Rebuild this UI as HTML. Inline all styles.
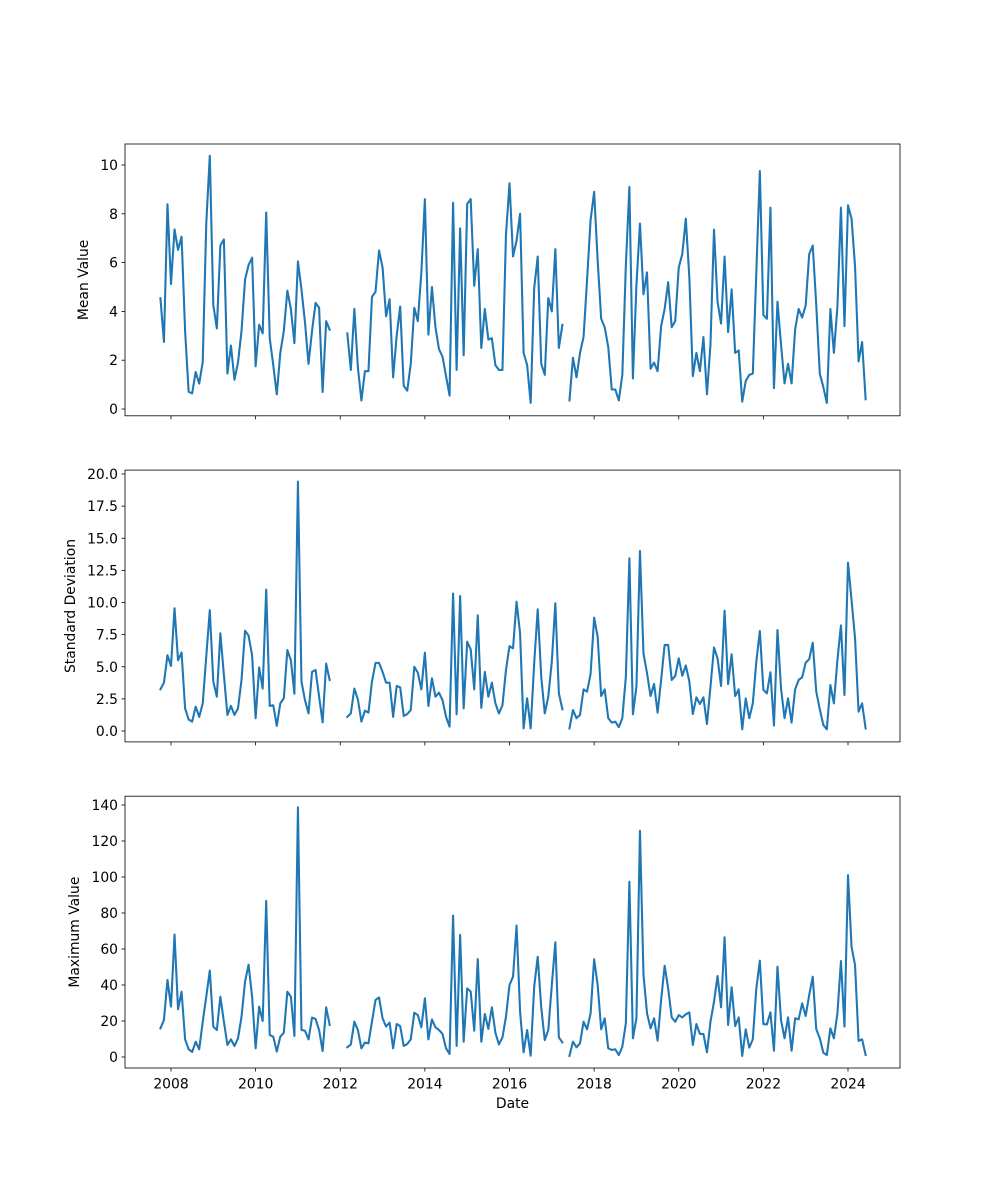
<!DOCTYPE html>
<html><head><meta charset="utf-8"><style>
body{margin:0;background:#fff}
svg{display:block}
text{font-family:"DejaVu Sans","Liberation Sans",sans-serif;font-size:13.9px;fill:#000}
</style></head><body>
<svg id="chart" width="1000" height="1200" viewBox="0 0 1000 1200" xmlns="http://www.w3.org/2000/svg"></svg>
<script>
// monthly series starting Oct 2007 (null = missing month)
const startYear = 2007, startMonth = 9; // 0-based month (Oct)
const meanValues = [4.54,2.75,8.39,5.12,7.36,6.52,7.06,3.2,0.71,0.64,1.52,1.04,1.93,7.6,10.38,4.26,3.3,6.7,6.95,1.45,2.6,1.2,1.9,3.2,5.3,5.9,6.2,1.75,3.45,3.1,8.05,2.9,1.8,0.6,2.3,3.2,4.85,4.1,2.7,6.05,4.9,3.55,1.85,3.2,4.35,4.15,0.7,3.6,3.25,
null,null,null,null,
3.1,1.6,4.1,1.7,0.35,1.55,1.55,4.6,4.8,6.5,5.8,3.8,4.5,1.3,3.0,4.2,
0.95,0.75,1.85,4.15,3.6,5.6,8.6,3.05,5.0,3.35,2.45,2.15,1.35,0.55,8.45,1.6,7.4,2.2,8.4,8.6,5.05,6.55,2.5,4.1,2.85,2.9,1.8,1.6,1.6,7.15,9.25,6.25,6.9,8.0,2.3,1.8,0.25,4.95,6.25,1.85,1.4,4.55,4.0,6.55,2.5,3.45,
null,
0.35,2.1,1.3,2.3,2.95,5.3,7.75,8.9,6.1,3.7,3.35,2.55,0.8,0.8,0.35,1.4,5.9,9.1,1.25,5.1,7.6,
4.7,5.6,1.65,1.9,1.55,3.4,4.1,5.2,3.35,3.6,5.8,6.35,7.8,5.4,1.35,2.3,1.55,2.95,0.6,2.65,7.35,4.4,3.5,6.25,3.15,4.9,2.3,2.4,0.3,1.15,1.4,1.45,5.6,9.75,3.85,3.7,8.25,0.85,4.4,2.65,1.05,1.85,1.05,3.25,4.1,3.75,4.25,6.35,6.7,4.25,1.45,0.9,0.25,4.1,2.3,4.2,8.25,3.4,8.35,7.8,5.85,1.95,2.75,0.4];
const stdValues = [3.24,3.76,5.9,5.06,9.55,5.5,6.1,1.76,0.9,0.73,1.9,1.1,2.15,5.8,9.4,3.85,2.67,7.6,4.36,1.25,1.95,1.25,1.76,3.97,7.8,7.42,5.9,1.0,4.95,3.3,11.0,1.95,2.0,0.4,2.15,2.55,6.3,5.5,2.9,19.4,3.85,2.4,1.37,4.6,4.75,2.67,0.67,5.25,3.97,
null,null,null,null,
1.1,1.37,3.3,2.46,0.73,1.58,1.43,3.85,5.3,5.3,4.6,3.76,3.76,1.1,3.5,3.4,
1.17,1.32,1.63,5.0,4.54,3.24,6.1,1.95,4.1,2.67,2.98,2.4,1.1,0.34,10.7,1.3,10.5,1.76,6.95,6.35,3.24,9.0,1.8,4.6,2.67,3.76,2.15,1.37,2.0,4.75,6.6,6.43,10.06,7.6,0.2,2.55,0.2,5.25,9.47,4.23,1.37,2.67,5.4,9.94,2.93,1.69,
null,
0.2,1.63,1.0,1.25,3.24,3.06,4.44,8.82,7.34,2.72,3.24,1.0,0.65,0.73,0.3,1.0,4.23,13.44,1.3,3.45,14.0,
6.04,4.5,2.72,3.66,1.43,3.97,6.7,6.7,3.97,4.28,5.66,4.3,5.1,3.85,1.32,2.62,2.1,2.62,0.54,3.45,6.5,5.66,3.5,9.36,3.66,5.97,2.72,3.24,0.13,2.54,1.0,2.15,5.4,7.78,3.2,2.93,4.57,0.42,7.86,3.32,1.0,2.54,0.65,3.24,3.97,4.18,5.32,5.58,6.87,3.06,1.69,0.47,0.13,3.58,2.15,5.53,8.22,2.8,13.1,10.2,7.2,1.5,2.15,0.2];
const maxValues = [15.9,20.6,42.8,28,68,26.5,36.3,9.8,4.3,2.8,8.5,4.3,19.6,33.5,48,16.9,15,33.5,19.6,6.7,9.8,6.1,10.4,22.4,41.9,51.3,33.5,4.8,28,20,86.7,12.2,11.3,3,11.3,13.5,36.3,33.5,11.7,138.7,15,14.6,9.8,21.9,21.1,15,3.3,27.6,17.8,
null,null,null,null,
5.4,7,19.6,15,4.8,8,7.6,19.6,31.7,33.1,21.5,16.9,19.1,4.8,18.3,17.2,
6.1,7.2,9.8,24.6,23.3,16.5,32.6,9.8,20.9,16.5,15,12.8,4.8,1.7,78.5,6.1,67.8,8.5,38.1,36.3,14.6,54.4,8.5,23.9,15.6,27.6,13.5,7,10.9,22.4,40,44.6,73,25.2,2.6,15,0.7,39,55.7,27.6,9.4,15,40,63.7,10.9,8.1,
null,
0.6,8.5,5.4,7.6,19.6,15.4,24.3,54.3,40,15.4,21.5,4.8,3.9,4.3,1.1,5.7,18.7,97.4,10.4,21.5,125.7,
45.6,24.3,15.9,21.5,9.1,31.7,50.7,38.1,22,19.6,23.3,22,23.7,24.8,6.7,18.3,12.8,12.8,2.6,19.6,30.7,45,27.6,66.5,17.8,38.7,17.2,22,0.6,15.4,5.2,9.8,38.1,53.5,18.3,18.1,24.8,3.5,50.2,20.6,10.4,22,3.5,21.5,20.9,29.8,22.8,34.4,44.6,15.4,10.4,2.4,1.1,15.9,10.4,24.3,53.3,16.9,101,61.3,51.1,8.9,9.8,1.1];
const xTickYears = [2008,2010,2012,2014,2016,2018,2020,2022,2024];
const meanTicks = [0,2,4,6,8,10];
const stdTicks = [0,2.5,5,7.5,10,12.5,15,17.5,20];
const stdTickLabels = ["0.0","2.5","5.0","7.5","10.0","12.5","15.0","17.5","20.0"];
const maxTicks = [0,20,40,60,80,100,120,140];

const NS = "http://www.w3.org/2000/svg";
const svg = document.getElementById('chart');
function mk(tag, attrs, parent){const e=document.createElementNS(NS,tag);for(const k in attrs)e.setAttribute(k,attrs[k]);(parent||svg).appendChild(e);return e;}
const L=125,R=900;
function xScale(t){return 171 + (t-2008)*42.3125;}
function monthT(i){return startYear + (startMonth+i)/12;}

const panels = [
 {name:'mean',data:meanValues,top:144,bot:415.8,y0:409,ppu:24.4,ticks:meanTicks,labels:meanTicks.map(String),title:'Mean Value',tx:88},
 {name:'std',data:stdValues,top:470.1,bot:741.9,y0:731,ppu:12.85,ticks:stdTicks,labels:stdTickLabels,title:'Standard Deviation',tx:75},
 {name:'max',data:maxValues,top:796.2,bot:1068,y0:1057,ppu:1.8,ticks:maxTicks,labels:maxTicks.map(String),title:'Maximum Value',tx:79}
];
panels.forEach((p,pi)=>{
  const g=mk('g',{});
  
  
  const yS=v=>p.y0 - v*p.ppu;
  let d='',pen=false;
  p.data.forEach((v,i)=>{
    if(v===null){pen=false;return;}
    const x=xScale(monthT(i)),y=yS(v);
    d+=(pen?'L':'M')+x.toFixed(2)+' '+y.toFixed(2);pen=true;
  });
  const path=mk('path',{d:d,fill:'none',stroke:'#1f77b4','stroke-width':2.08,'stroke-linejoin':'round','stroke-linecap':'square'},g);
  
  
  const fr=mk('rect',{x:L,y:p.top,width:R-L,height:p.bot-p.top,fill:'none',stroke:'#000','stroke-width':0.8},g);
  
  
  p.ticks.forEach((v,k)=>{
    const y=yS(v);
    mk('line',{x1:L-3.5,x2:L,y1:y,y2:y,stroke:'#000','stroke-width':0.8},g);
    const t=mk('text',{x:L-7,y:y+5,'text-anchor':'end'},g);
    t.textContent=p.labels[k];
    
    
  });
  xTickYears.forEach(yr=>{
    const x=xScale(yr);
    mk('line',{x1:x,x2:x,y1:p.bot,y2:p.bot+3.5,stroke:'#000','stroke-width':0.8},g);
    if(pi===2){
      const t=mk('text',{x:x,y:p.bot+20.5,'text-anchor':'middle'},g);
      t.textContent=String(yr);
      
      
    }
  });
  const cy=(p.top+p.bot)/2;
  const yt=mk('text',{x:p.tx,y:cy,'text-anchor':'middle',transform:'rotate(-90 '+p.tx+' '+cy+')'},g);
  yt.textContent=p.title;
  
  
});
const xt=mk('text',{x:512.5,y:1108,'text-anchor':'middle'});
xt.textContent='Date';


</script>
</body></html>
